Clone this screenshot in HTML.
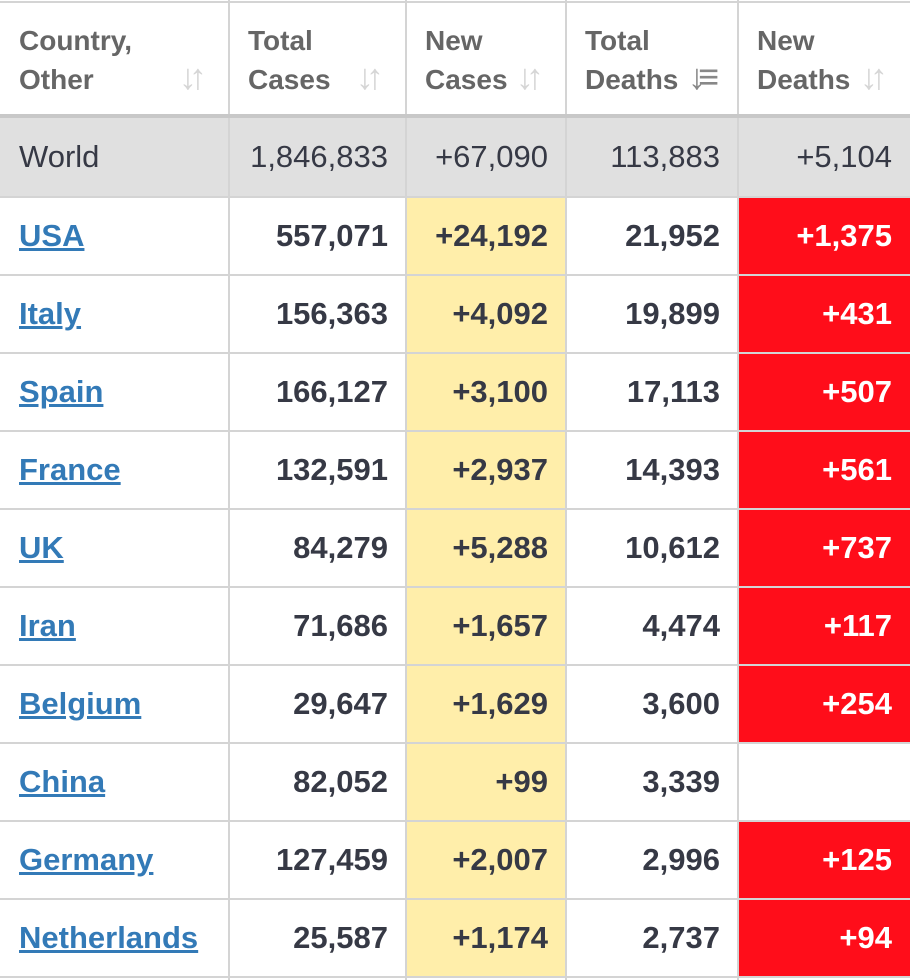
<!DOCTYPE html>
<html><head><meta charset="utf-8">
<style>
body{margin:0;width:910px;height:980px;background:#fff;overflow:hidden;font-family:"Liberation Sans",Arial,sans-serif;position:relative}
.c{position:absolute;box-sizing:border-box;display:flex;align-items:center;font-size:31px}
.vl{position:absolute;top:0;height:980px;width:2px;background:#d4d4d4}
.hl{position:absolute;left:0;width:910px;height:2px;background:#d4d4d4}
.hd{position:absolute;color:#666;font-weight:bold;font-size:28px;line-height:39px}
.ar{position:absolute;color:#d6d6d6;font-size:36px;font-weight:bold;letter-spacing:-8px}
a{color:#337ab7;text-decoration:underline;font-weight:bold}
</style></head><body>
<div id="root"></div>
<script>
const countries=["USA","Italy","Spain","France","UK","Iran","Belgium","China","Germany","Netherlands"];
const totalCases=["557,071","156,363","166,127","132,591","84,279","71,686","29,647","82,052","127,459","25,587"];
const newCases=["+24,192","+4,092","+3,100","+2,937","+5,288","+1,657","+1,629","+99","+2,007","+1,174"];
const totalDeaths=["21,952","19,899","17,113","14,393","10,612","4,474","3,600","3,339","2,996","2,737"];
const newDeaths=["+1,375","+431","+507","+561","+737","+117","+254","","+125","+94"];
const world=["World","1,846,833","+67,090","113,883","+5,104"];
const headers=[["Country,","Other"],["Total","Cases"],["New","Cases"],["Total","Deaths"],["New","Deaths"]];
const cols=[0,229,406,566,738,910];
const root=document.getElementById('root');
function cell(x0,x1,y0,y1,bg,txt,align,color,weight,name,link){
  const d=document.createElement('div');d.className='c';
  d.style.left=x0+'px';d.style.width=(x1-x0)+'px';d.style.top=y0+'px';d.style.height=(y1-y0)+'px';
  if(bg)d.style.background=bg;
  d.style.justifyContent=align==='l'?'flex-start':'flex-end';
  d.style.padding=align==='l'?'0 0 0 19px':'0 18px 0 0';
  d.style.color=color;d.style.fontWeight=weight;
  
  
  if(link){const a=document.createElement('a');a.textContent=txt;a.href='#';d.appendChild(a);}else d.textContent=txt;
  root.appendChild(d);
}
const wb=document.createElement('div');
wb.style.cssText='position:absolute;left:0;top:116px;width:910px;height:81px;background:#e0e0e0';


root.appendChild(wb);
for(let i=0;i<5;i++){
  cell(cols[i],cols[i+1],116,197,null,world[i],i===0?'l':'r','#363945','normal','world-'+i,false);
}
const rowTop=198,rowH=78;
countries.forEach((c,r)=>{
  const y0=rowTop+r*rowH,y1=y0+rowH-2;
  cell(cols[0],cols[1],y0,y1,null,c,'l','#337ab7','bold','country-'+c.toLowerCase(),true);
  cell(cols[1],cols[2],y0,y1,null,totalCases[r],'r','#363945','bold','total-cases-'+r,false);
  cell(cols[2],cols[3],y0-2,y1+2,'#ffeeaa',newCases[r],'r','#363945','bold','new-cases-'+r,false);
  cell(cols[3],cols[4],y0,y1,null,totalDeaths[r],'r','#363945','bold','total-deaths-'+r,false);
  cell(cols[4],cols[5],y0,y1,newDeaths[r]?'#ff0d1a':null,newDeaths[r],'r','#fff','bold','new-deaths-'+r,false);
});
for(let i=1;i<5;i++){const v=document.createElement('div');v.className='vl';v.style.left=(cols[i]-1)+'px';


root.appendChild(v);}
const hs=[1];for(let r=0;r<=10;r++)hs.push(rowTop-2+r*rowH);
hs.forEach(y=>{const h=document.createElement('div');h.className='hl';h.style.top=y+'px';


root.appendChild(h);});
const th=document.createElement('div');th.style.cssText='position:absolute;left:0;top:114px;width:910px;height:4px;background:#c8c8c8';


root.appendChild(th);
headers.forEach((h,i)=>{
  const d=document.createElement('div');d.className='hd';
  d.style.left=(cols[i]+19)+'px';d.style.top='21px';
  d.innerHTML=h[0]+'<br>'+h[1];
  
  
  root.appendChild(d);
  const a=document.createElement('div');a.className='ar';
  a.style.left=(cols[i+1]-50)+'px';a.style.top='56px';
  a.textContent=i===3?'↓≡':'↓↑';
  if(i===3)a.style.color='#888';
  
  
  root.appendChild(a);
});
</script>
</body></html>
